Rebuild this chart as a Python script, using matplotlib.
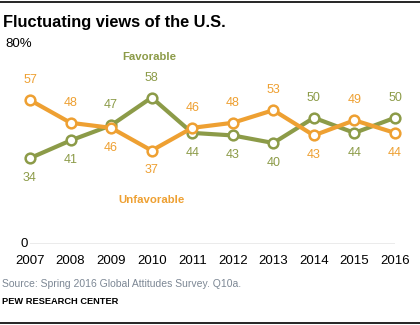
import matplotlib.pyplot as plt
from matplotlib.lines import Line2D

years = [2007, 2008, 2009, 2010, 2011, 2012, 2013, 2014, 2015, 2016]
favorable = [34, 41, 47, 58, 44, 43, 40, 50, 44, 50]
unfavorable = [57, 48, 46, 37, 46, 48, 53, 43, 49, 44]
# label above (1) or below (-1) the point
fav_pos = [-1, -1, 1, 1, -1, -1, -1, 1, -1, 1]
unf_pos = [1, 1, -1, -1, 1, 1, 1, -1, 1, -1]

green = '#8c9b48'
orange = '#eea032'

plt.rcParams['font.family'] = ['Liberation Sans', 'DejaVu Sans']

fig = plt.figure(figsize=(4.2, 3.25), dpi=100)
ax = fig.add_axes([30 / 420, 81 / 325, 365 / 420, 202 / 325])

for vals, pos, col in [(favorable, fav_pos, green), (unfavorable, unf_pos, orange)]:
    ax.plot(years, vals, color=col, lw=3, marker='o', ms=7,
            mfc='white', mec=col, mew=1.8, clip_on=False, zorder=3)
    for x, v, p in zip(years, vals, pos):
        ax.annotate(str(v), (x, v), xytext=(0, 10 * p), textcoords='offset points',
                    ha='center', va='bottom' if p > 0 else 'top',
                    color=col, fontsize=9)

ax.text(2009.95, 74, 'Favorable', color=green, fontsize=8.2, fontweight='bold',
        ha='center', va='center')
ax.text(2010.0, 17.4, 'Unfavorable', color=orange, fontsize=8.2, fontweight='bold',
        ha='center', va='center')

ax.set_xlim(2007, 2016)
ax.set_ylim(0, 80)
ax.axhline(0, color='#999999', lw=1)
for s in ax.spines.values():
    s.set_visible(False)
ax.set_yticks([])
ax.set_xticks(years)
ax.set_xticklabels([str(y) for y in years], fontsize=9.5)
ax.tick_params(axis='x', length=0, pad=8)

fig.text(28 / 420, 1 - 244 / 325, '0', ha='right', va='center', fontsize=9.5)
fig.text(5 / 420, 1 - 44 / 325, '80%', ha='left', va='center', fontsize=9.5)

fig.text(3 / 420, 1 - 22 / 325, 'Fluctuating views of the U.S.', ha='left', va='center',
         fontsize=11.8, fontweight='bold')
fig.text(2 / 420, 1 - 284 / 325, 'Source: Spring 2016 Global Attitudes Survey. Q10a.',
         ha='left', va='center', fontsize=7.5, color='#7c8794')
fig.text(2 / 420, 1 - 302 / 325, 'PEW RESEARCH CENTER', ha='left', va='center',
         fontsize=6.7, fontweight='bold')

fig.add_artist(Line2D([0, 1], [1 - 1.5 / 325] * 2, color='black', lw=1.2))
fig.add_artist(Line2D([0, 1], [1 - 322.5 / 325] * 2, color='black', lw=1.2))

fig.savefig('out.png', dpi=100)
